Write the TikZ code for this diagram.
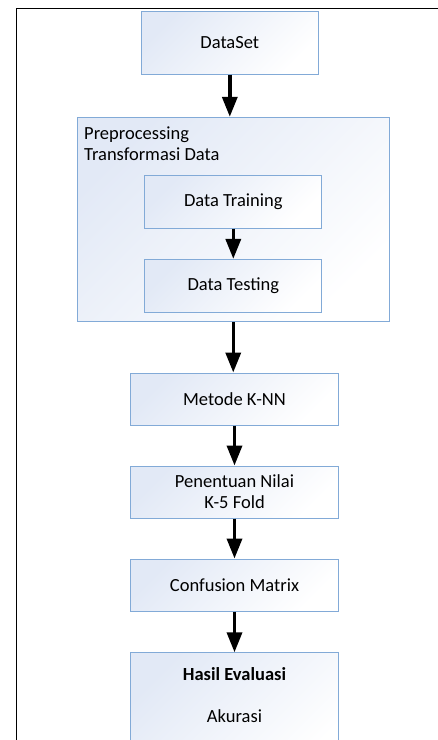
\documentclass[tikz,border=0pt]{standalone}
\usepackage{fontspec}
\setmainfont{Carlito}
\usetikzlibrary{arrows.meta}

\definecolor{boxline}{RGB}{130,170,215}
\definecolor{boxfill}{RGB}{226,233,246}

\tikzset{
  stepbox/.style={rectangle, draw=boxline, line width=1pt, top color=boxfill, middle color=white, bottom color=white, shading angle=45, font=\fontsize{18.5}{21}\selectfont, align=center},
  steptext/.style={inner sep=0pt, font=\fontsize{18.5}{21}\selectfont},
  flow/.style={line width=3.5pt, -{Triangle[width=15pt,length=20pt]}}
}

\begin{document}
\begin{tikzpicture}[x=1pt, y=-1pt]
  \clip (0,0) rectangle (438,740);

  % Frame
  \draw[line width=1pt] (16,8) rectangle (460,760);

  % Dataset
  \node[stepbox, minimum width=177pt, minimum height=62.7pt] (dataset) at (229.8,42.7) {DataSet};

  % Preprocessing block
  \node[stepbox, minimum width=311.5pt, minimum height=204.4pt] (prep) at (233.25,219.5) {};
  \node[steptext, anchor=base west, align=left] (preplabel) at (84,160) {Preprocessing\\Transformasi Data};
  \node[stepbox, minimum width=177.3pt, minimum height=52.7pt] (training) at (233.3,201.7) {Data Training};
  \node[stepbox, minimum width=177.3pt, minimum height=52.7pt] (testing) at (233.3,285.7) {Data Testing};

  % Classification steps
  \node[stepbox, minimum width=208.4pt, minimum height=52pt] (knn) at (234.5,399) {Metode K-NN};
  \node[stepbox, minimum width=208.4pt, minimum height=52pt] (nilai) at (234.5,492) {Penentuan Nilai\\K-5 Fold};
  \node[stepbox, minimum width=208.4pt, minimum height=52pt] (confusion) at (234.5,585) {Confusion Matrix};

  % Result
  \node[stepbox, anchor=north, minimum width=208.4pt, minimum height=120pt] (hasil) at (234.5,652.3) {};
  \node[steptext, anchor=base, align=center] (hasiltext) at (234.5,722.7) {\textbf{Hasil Evaluasi}\\[21pt]Akurasi};

  % Connect nodes
  \draw[flow] (dataset) -- (dataset |- prep.north);
  \draw[flow] (training) -- (testing);
  \draw[flow] (prep.south) -- (prep.south |- knn.north);
  \foreach \a/\b in {knn/nilai, nilai/confusion, confusion/hasil}
    \draw[flow] (\a) -- (\b);
\end{tikzpicture}
\end{document}
